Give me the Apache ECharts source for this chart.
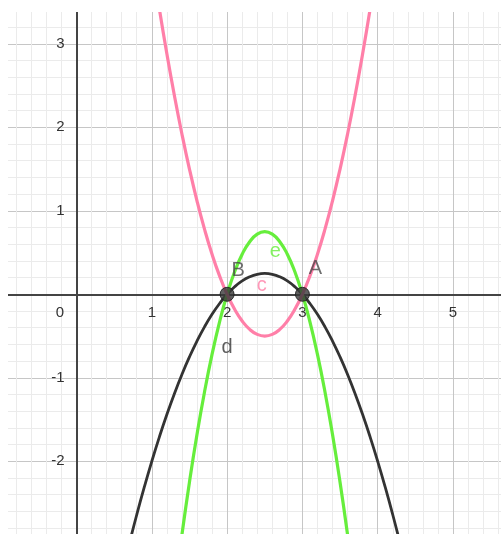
<!DOCTYPE html>
<html>
<head>
<meta charset="utf-8">
<script src="https://cdn.jsdelivr.net/npm/echarts@6/dist/echarts.min.js"></script>
<style>
  html, body { margin: 0; padding: 0; background: #ffffff; }
  #chart { width: 501px; height: 534px; }
</style>
</head>
<body>
<div id="chart"></div>
<script>
// Sample x positions for each curve
const xsC = [1.0, 1.1, 1.2, 1.3, 1.4, 1.5, 1.6, 1.7, 1.8, 1.9, 2.0, 2.1, 2.2, 2.3, 2.4, 2.5,
             2.6, 2.7, 2.8, 2.9, 3.0, 3.1, 3.2, 3.3, 3.4, 3.5, 3.6, 3.7, 3.8, 3.9, 4.0];
// c: upward parabola through B and A, minimum -0.5
const ysC = [4, 3.42, 2.88, 2.38, 1.92, 1.5, 1.12, 0.78, 0.48, 0.22, 0, -0.18, -0.32, -0.42, -0.48, -0.5,
             -0.48, -0.42, -0.32, -0.18, 0, 0.22, 0.48, 0.78, 1.12, 1.5, 1.92, 2.38, 2.88, 3.42, 4];

const xsE = [1.3, 1.4, 1.5, 1.6, 1.7, 1.8, 1.9, 2.0, 2.1, 2.2, 2.3, 2.4, 2.5,
             2.6, 2.7, 2.8, 2.9, 3.0, 3.1, 3.2, 3.3, 3.4, 3.5, 3.6, 3.7];
// e: narrow downward parabola, maximum 0.75
const ysE = [-3.57, -2.88, -2.25, -1.68, -1.17, -0.72, -0.33, 0, 0.27, 0.48, 0.63, 0.72, 0.75,
             0.72, 0.63, 0.48, 0.27, 0, -0.33, -0.72, -1.17, -1.68, -2.25, -2.88, -3.57];

const xsD = [0.6, 0.7, 0.8, 0.9, 1.0, 1.1, 1.2, 1.3, 1.4, 1.5, 1.6, 1.7, 1.8, 1.9, 2.0, 2.1, 2.2, 2.3, 2.4, 2.5,
             2.6, 2.7, 2.8, 2.9, 3.0, 3.1, 3.2, 3.3, 3.4, 3.5, 3.6, 3.7, 3.8, 3.9, 4.0, 4.1, 4.2, 4.3, 4.4];
// d: wide downward parabola, maximum 0.25
const ysD = [-3.36, -2.99, -2.64, -2.31, -2, -1.71, -1.44, -1.19, -0.96, -0.75, -0.56, -0.39, -0.24, -0.11, 0,
             0.09, 0.16, 0.21, 0.24, 0.25, 0.24, 0.21, 0.16, 0.09, 0, -0.11, -0.24, -0.39, -0.56, -0.75,
             -0.96, -1.19, -1.44, -1.71, -2, -2.31, -2.64, -2.99, -3.36];

// Intersection points
const pointNames = ['A', 'B'];
const pointX = [3, 2];
const pointY = [0, 0];

// Curve name labels (anchor in data space)
const curveNames = ['c', 'e', 'd'];
const curveLabelX = [2.46, 2.64, 2.0];
const curveLabelY = [0.11, 0.51, -0.64];

// Tick labels shown on each axis
const xTickLabels = [0, 1, 2, 3, 4, 5];
const yTickLabels = [-2, -1, 1, 2, 3];

const colC = '#ff7fa8';
const colE = '#66ee3c';
const colD = '#333333';
const tickFont = 'Liberation Sans, Arial, sans-serif';

// Plot frame: x from -1 to 6, y from -3 to 4 (the area outside the view is masked)
const gridLeft = 1.2, gridTop = -39.7, gridWidth = 527.1, gridHeight = 584.5;
const xMin = -1, xMax = 6, yMin = -3, yMax = 4;
// Shift each axis from its grid edge onto the other axis's zero
const xAxisOffset = -gridHeight * (0 - yMin) / (yMax - yMin);
const yAxisOffset = -gridWidth * (0 - xMin) / (xMax - xMin);

const zip = (xs, ys) => xs.map((x, i) => [x, ys[i]]);

const chart = echarts.init(document.getElementById('chart'), null, { renderer: 'canvas' });

const axisCommon = {
  type: 'value',
  interval: 1,
  axisLine: { onZero: false, lineStyle: { color: '#444444', width: 2 } },
  axisTick: { show: false },
  minorTick: { show: false, splitNumber: 5 },
  splitLine: { show: true, lineStyle: { color: '#c6c6c6', width: 1 } },
  minorSplitLine: { show: true, lineStyle: { color: '#ebebeb', width: 1 } }
};

chart.setOption({
  animation: false,
  backgroundColor: '#ffffff',
  grid: { left: gridLeft, top: gridTop, width: gridWidth, height: gridHeight,
          containLabel: false, outerBoundsMode: 'none' },
  xAxis: Object.assign({}, axisCommon, {
    min: xMin, max: xMax, position: 'bottom', offset: xAxisOffset,
    axisLabel: {
      margin: 11,
      fontSize: 15,
      fontFamily: tickFont,
      color: '#333333',
      formatter: v => {
        if (!xTickLabels.includes(v)) return '';
        if (v === 0) return '{o|0}';
        return String(v);
      },
      rich: { o: { fontSize: 15, color: '#333333', padding: [0, 33, 0, 0], fontFamily: tickFont } }
    }
  }),
  yAxis: Object.assign({}, axisCommon, {
    min: yMin, max: yMax, position: 'left', offset: yAxisOffset,
    axisLabel: {
      margin: 12,
      fontSize: 15,
      fontFamily: tickFont,
      color: '#333333',
      formatter: v => yTickLabels.includes(v) ? String(v) : ''
    }
  }),
  series: [
    {
      name: 'd', type: 'line', data: zip(xsD, ysD), smooth: true, showSymbol: false,
      lineStyle: { color: colD, width: 2.8 }, z: 3, silent: true
    },
    {
      name: 'e', type: 'line', data: zip(xsE, ysE), smooth: true, showSymbol: false,
      lineStyle: { color: colE, width: 3.2 }, z: 4, silent: true
    },
    {
      name: 'c', type: 'line', data: zip(xsC, ysC), smooth: true, showSymbol: false,
      lineStyle: { color: colC, width: 3.2 }, z: 5, silent: true
    },
    {
      name: 'points', type: 'scatter', z: 10,
      data: pointNames.map((n, i) => ({
        name: n, value: [pointX[i], pointY[i]],
        label: { offset: n === 'A' ? [13, -26] : [11, -24] }
      })),
      symbol: 'circle', symbolSize: 14,
      itemStyle: { color: '#383838', borderColor: '#1a1a1a', borderWidth: 1 },
      label: {
        show: true, position: 'inside', formatter: p => p.name,
        fontSize: 20, fontFamily: tickFont, color: '#4a4a4a'
      },
      silent: true
    },
    {
      name: 'curveNames', type: 'scatter', z: 11, symbolSize: 0,
      data: curveNames.map((n, i) => ({
        name: n, value: [curveLabelX[i], curveLabelY[i]],
        label: { color: [colC, colE, colD][i] }
      })),
      label: {
        show: true, position: 'inside', formatter: p => p.name,
        fontSize: 20, fontFamily: tickFont
      },
      silent: true
    }
  ],
  graphic: [
    { type: 'rect', shape: { x: 0, y: 0, width: 501, height: 12 }, style: { fill: '#ffffff' }, z: 100 },
    { type: 'rect', shape: { x: 0, y: 0, width: 8, height: 534 }, style: { fill: '#ffffff' }, z: 100 }
  ]
});
</script>
</body>
</html>
